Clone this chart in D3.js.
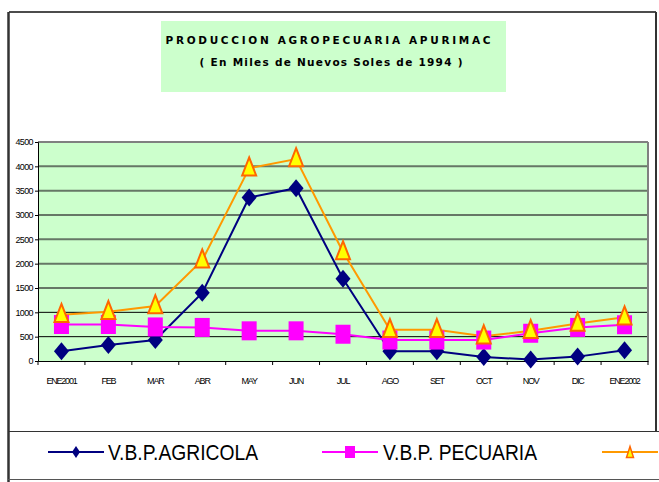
<!DOCTYPE html>
<html><head><meta charset="utf-8">
<script src="https://cdn.jsdelivr.net/npm/d3@7"></script>
<style>
body{margin:0;background:#fff;}
svg{display:block;font-family:"Liberation Sans",Arial,sans-serif;}
</style></head>
<body>
<script>
const categories = ["ENE2001","FEB","MAR","ABR","MAY","JUN","JUL","AGO","SET","OCT","NOV","DIC","ENE2002"];
const agricola = [200,330,430,1400,3360,3550,1690,200,200,80,30,90,220];
const pecuaria = [750,750,700,690,620,620,550,430,430,430,570,690,745];
const total    = [950,1010,1130,2070,3960,4150,2240,640,640,510,620,770,900];
const yTicks = [0,500,1000,1500,2000,2500,3000,3500,4000,4500];
const seriesNames = ["V.B.P.AGRICOLA","V.B.P. PECUARIA",""];
const titleLines = ["PRODUCCION AGROPECUARIA  APURIMAC","( En Miles de Nuevos Soles de 1994 )"];

const W = 659, H = 482;
const svg = d3.select("body").append("svg").attr("width", W).attr("height", H);

// outer frame
svg.append("line").attr("x1",9).attr("x2",656).attr("y1",12).attr("y2",12).attr("stroke","#111").attr("stroke-width",1.5);
svg.append("line").attr("x1",656).attr("x2",656).attr("y1",12).attr("y2",431).attr("stroke","#333").attr("stroke-width",2);
svg.append("line").attr("x1",8.5).attr("x2",8.5).attr("y1",12).attr("y2",482).attr("stroke","#333").attr("stroke-width",2.5);

// title box
svg.append("rect").attr("x",161).attr("y",21).attr("width",345).attr("height",71).attr("fill","#ccffcc");
svg.append("text").attr("x",328).attr("y",44).attr("text-anchor","middle")
  .attr("font-family","'DejaVu Sans',sans-serif").attr("font-weight","bold").attr("font-size",10.5)
  .attr("textLength",325).attr("lengthAdjust","spacing").text(titleLines[0]);
svg.append("text").attr("x",331).attr("y",66).attr("text-anchor","middle")
  .attr("font-family","'DejaVu Sans',sans-serif").attr("font-weight","bold").attr("font-size",10.5)
  .attr("textLength",263).attr("lengthAdjust","spacing").text(titleLines[1]);

// plot
const L = 38, R = 648, T = 142, B = 361;
const x = d3.scaleBand().domain(categories).range([L, R]).padding(0);
const y = d3.scaleLinear().domain([0, 4500]).range([B, T]);
const cx = d => x(d) + x.bandwidth()/2;

svg.append("rect").attr("x",L).attr("y",T).attr("width",R-L).attr("height",B-T).attr("fill","#ccffcc");

// gridlines
svg.append("g").selectAll("line").data(yTicks.filter(v=>v>0)).join("line")
  .attr("x1",L).attr("x2",R).attr("y1",d=>y(d)).attr("y2",d=>y(d))
  .attr("stroke",d=> d<=1000 ? "#000" : "#667766")
  .attr("stroke-width",d=> d<=1000 ? 1 : 2);

// plot border top/right
svg.append("line").attr("x1",L).attr("x2",R).attr("y1",T).attr("y2",T).attr("stroke","#808080").attr("stroke-width",2);
svg.append("line").attr("x1",R).attr("x2",R).attr("y1",T).attr("y2",B).attr("stroke","#808080").attr("stroke-width",2);

// axes
const yAxis = svg.append("g").attr("transform",`translate(${L},0)`)
  .call(d3.axisLeft(y).tickValues(yTicks).tickSize(3).tickFormat(d3.format("d")));
yAxis.select(".domain").attr("stroke","#000");
yAxis.selectAll("text").attr("font-size",9).attr("letter-spacing","-0.6px").attr("fill","#000").attr("dx","1");

const xAxis = svg.append("g").attr("transform",`translate(0,${B})`)
  .call(d3.axisBottom(x).tickSize(0).tickPadding(17));
xAxis.select(".domain").attr("stroke","#000");
xAxis.selectAll("text").attr("font-size",9).attr("letter-spacing","-1.2px").attr("fill","#000");
// tick marks at band boundaries
svg.append("g").selectAll("line").data(categories.concat(["__end"])).join("line")
  .attr("x1",(d,i)=> i<categories.length ? x(d) : R).attr("x2",(d,i)=> i<categories.length ? x(d) : R)
  .attr("y1",B).attr("y2",B+4).attr("stroke","#000");

const line = d3.line().x((d,i)=>cx(categories[i])).y(d=>y(d));

svg.append("path").datum(agricola).attr("d",line).attr("fill","none").attr("stroke","#000080").attr("stroke-width",2);
svg.append("path").datum(pecuaria).attr("d",line).attr("fill","none").attr("stroke","#ff00ff").attr("stroke-width",2);
svg.append("path").datum(total).attr("d",line).attr("fill","none").attr("stroke","#ff9900").attr("stroke-width",2);

// markers
const diamond = (w,h) => `M0,${-h/2}L${w/2},0L0,${h/2}L${-w/2},0Z`;
const tri = (w,h) => `M0,${-h*0.6}L${w/2},${h*0.4}L${-w/2},${h*0.4}Z`;

svg.append("g").selectAll("path").data(agricola).join("path")
  .attr("transform",(d,i)=>`translate(${cx(categories[i])},${y(d)})`)
  .attr("d",diamond(15,18)).attr("fill","#000080");
svg.append("g").selectAll("rect").data(pecuaria).join("rect")
  .attr("x",(d,i)=>cx(categories[i])-7.5).attr("y",d=>y(d)-9.5)
  .attr("width",15).attr("height",19).attr("fill","#ff00ff");
svg.append("g").selectAll("path").data(total).join("path")
  .attr("transform",(d,i)=>`translate(${cx(categories[i])},${y(d)})`)
  .attr("d",tri(14,18)).attr("fill","#ffff00").attr("stroke","#ff6600").attr("stroke-width",2).attr("stroke-linejoin","miter");

// legend box
svg.append("line").attr("x1",8).attr("x2",659).attr("y1",431.5).attr("y2",431.5).attr("stroke","#333").attr("stroke-width",1.2);
svg.append("line").attr("x1",8).attr("x2",659).attr("y1",479.5).attr("y2",479.5).attr("stroke","#555").attr("stroke-width",1.2);

const legendItems = [
  {name:seriesNames[0], color:"#000080", x0:48, tx:108, tl:150, mark:"diamond"},
  {name:seriesNames[1], color:"#ff00ff", x0:322, tx:383, tl:154, mark:"square"},
  {name:seriesNames[2], color:"#ff9900", x0:602, tx:664, tl:0, mark:"tri"}
];
const lg = svg.append("g").selectAll("g").data(legendItems).join("g");
lg.append("line").attr("x1",d=>d.x0).attr("x2",d=>d.x0+56).attr("y1",452).attr("y2",452)
  .attr("stroke",d=>d.color).attr("stroke-width",2);
lg.each(function(d){
  const g = d3.select(this), mx = d.x0+28;
  if(d.mark==="diamond") g.append("path").attr("transform",`translate(${mx},452)`).attr("d",diamond(8,12)).attr("fill",d.color);
  else if(d.mark==="square") g.append("rect").attr("x",mx-5).attr("y",446).attr("width",10).attr("height",12).attr("fill",d.color);
  else g.append("path").attr("transform",`translate(${mx},453)`).attr("d",tri(7,11)).attr("fill","#ffff00").attr("stroke","#ff6600").attr("stroke-width",1.5);
});
lg.filter(d=>d.name).append("text").attr("x",d=>d.tx).attr("y",460).attr("font-size",22).attr("fill","#000")
  .attr("textLength",d=>d.tl).attr("lengthAdjust","spacingAndGlyphs").text(d=>d.name);
</script>
</body></html>
